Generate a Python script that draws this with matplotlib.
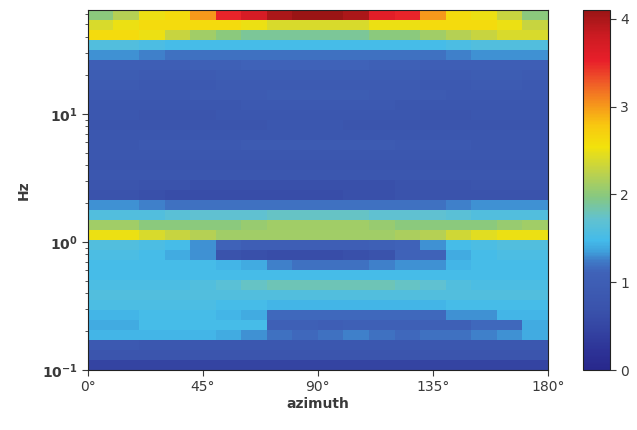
import numpy as np
import matplotlib
matplotlib.use("Agg")
import matplotlib.pyplot as plt
from matplotlib.colors import LinearSegmentedColormap

# azimuth bin edges (deg) and frequency span (Hz)
azimuth_edges = [0, 10, 20, 30, 40, 50, 60, 70, 80, 90, 100, 110, 120, 130, 140, 150, 160, 170, 180]
f_low, f_high = 0.1, 65.0

# values, top row (highest Hz) first, 18 azimuth bins each
rows = [
    [2.0, 2.2, 2.5, 2.6, 3.0, 3.5, 3.7, 4.0, 4.1, 4.1, 4.0, 3.6, 3.5, 3.0, 2.6, 2.5, 2.3, 2.0],
    [2.4, 2.5, 2.6, 2.6, 2.6, 2.6, 2.5, 2.4, 2.4, 2.4, 2.4, 2.5, 2.5, 2.6, 2.6, 2.6, 2.5, 2.3],
    [2.6, 2.6, 2.5, 2.3, 2.1, 2.0, 1.9, 1.9, 1.9, 1.9, 1.9, 2.0, 2.0, 2.1, 2.2, 2.3, 2.4, 2.4],
    [1.6, 1.6, 1.55, 1.5, 1.5, 1.5, 1.5, 1.5, 1.5, 1.5, 1.5, 1.5, 1.5, 1.5, 1.55, 1.6, 1.6, 1.6],
    [1.3, 1.3, 1.25, 1.2, 1.2, 1.2, 1.2, 1.2, 1.2, 1.2, 1.2, 1.2, 1.2, 1.2, 1.25, 1.3, 1.3, 1.3],
    [1.0, 1.0, 1.0, 1.0, 1.05, 1.05, 1.1, 1.1, 1.1, 1.1, 1.1, 1.05, 1.05, 1.0, 1.0, 1.0, 1.0, 1.0],
    [0.95, 0.95, 0.9, 0.9, 0.9, 0.95, 0.95, 0.95, 0.95, 0.95, 0.95, 0.95, 0.95, 0.9, 0.9, 0.95, 0.95, 0.9],
    [0.9, 0.9, 0.85, 0.85, 0.85, 0.9, 0.9, 0.9, 0.9, 0.9, 0.9, 0.9, 0.9, 0.85, 0.85, 0.9, 0.9, 0.85],
    [0.85, 0.85, 0.85, 0.85, 0.9, 0.9, 0.9, 0.95, 0.95, 0.95, 0.95, 0.9, 0.9, 0.9, 0.85, 0.85, 0.85, 0.85],
    [0.8, 0.8, 0.8, 0.8, 0.8, 0.8, 0.85, 0.85, 0.85, 0.85, 0.85, 0.85, 0.8, 0.8, 0.8, 0.8, 0.8, 0.8],
    [0.8, 0.8, 0.75, 0.75, 0.75, 0.8, 0.8, 0.8, 0.8, 0.8, 0.8, 0.8, 0.8, 0.75, 0.75, 0.8, 0.8, 0.8],
    [0.75, 0.75, 0.75, 0.75, 0.75, 0.75, 0.75, 0.8, 0.8, 0.8, 0.75, 0.75, 0.75, 0.75, 0.75, 0.75, 0.75, 0.75],
    [0.8, 0.8, 0.8, 0.8, 0.8, 0.8, 0.8, 0.8, 0.8, 0.8, 0.8, 0.8, 0.8, 0.8, 0.8, 0.8, 0.8, 0.8],
    [0.8, 0.8, 0.85, 0.85, 0.85, 0.85, 0.9, 0.9, 0.9, 0.9, 0.9, 0.9, 0.85, 0.85, 0.85, 0.8, 0.8, 0.8],
    [0.8, 0.8, 0.8, 0.8, 0.8, 0.8, 0.8, 0.8, 0.8, 0.8, 0.8, 0.8, 0.8, 0.8, 0.8, 0.8, 0.8, 0.8],
    [0.75, 0.75, 0.75, 0.75, 0.75, 0.75, 0.75, 0.75, 0.75, 0.75, 0.75, 0.75, 0.75, 0.75, 0.75, 0.75, 0.75, 0.75],
    [0.8, 0.8, 0.8, 0.8, 0.8, 0.8, 0.8, 0.8, 0.8, 0.8, 0.8, 0.8, 0.8, 0.8, 0.8, 0.8, 0.8, 0.8],
    [0.75, 0.75, 0.7, 0.7, 0.65, 0.65, 0.65, 0.65, 0.65, 0.65, 0.65, 0.65, 0.7, 0.7, 0.7, 0.75, 0.75, 0.75],
    [0.7, 0.7, 0.65, 0.6, 0.6, 0.6, 0.6, 0.6, 0.6, 0.6, 0.65, 0.65, 0.7, 0.7, 0.7, 0.7, 0.7, 0.7],
    [1.3, 1.3, 1.25, 1.2, 1.2, 1.2, 1.2, 1.2, 1.2, 1.2, 1.2, 1.2, 1.2, 1.2, 1.25, 1.3, 1.3, 1.3],
    [1.6, 1.6, 1.6, 1.65, 1.7, 1.7, 1.7, 1.75, 1.75, 1.75, 1.75, 1.7, 1.7, 1.7, 1.65, 1.6, 1.6, 1.6],
    [2.1, 2.1, 2.0, 2.0, 2.0, 2.0, 2.05, 2.1, 2.1, 2.1, 2.1, 2.05, 2.0, 2.0, 2.0, 2.0, 2.05, 2.1],
    [2.5, 2.5, 2.4, 2.3, 2.2, 2.1, 2.1, 2.1, 2.1, 2.1, 2.1, 2.1, 2.15, 2.2, 2.35, 2.45, 2.5, 2.5],
    [1.6, 1.6, 1.55, 1.5, 1.3, 1.1, 1.0, 1.0, 1.0, 1.0, 1.0, 1.05, 1.1, 1.3, 1.5, 1.55, 1.6, 1.6],
    [1.55, 1.55, 1.5, 1.4, 1.3, 0.7, 0.65, 0.6, 0.6, 0.6, 0.65, 0.7, 1.1, 1.1, 1.4, 1.5, 1.55, 1.55],
    [1.5, 1.5, 1.5, 1.5, 1.5, 1.45, 1.4, 1.25, 1.2, 1.2, 1.2, 1.25, 1.3, 1.3, 1.45, 1.5, 1.5, 1.5],
    [1.5, 1.5, 1.5, 1.5, 1.5, 1.5, 1.5, 1.5, 1.5, 1.5, 1.5, 1.5, 1.5, 1.5, 1.5, 1.5, 1.5, 1.5],
    [1.55, 1.55, 1.55, 1.55, 1.6, 1.65, 1.75, 1.8, 1.8, 1.8, 1.8, 1.8, 1.75, 1.7, 1.6, 1.55, 1.55, 1.55],
    [1.6, 1.6, 1.6, 1.6, 1.6, 1.6, 1.6, 1.6, 1.6, 1.6, 1.6, 1.6, 1.6, 1.6, 1.6, 1.6, 1.6, 1.6],
    [1.55, 1.55, 1.55, 1.55, 1.55, 1.5, 1.5, 1.45, 1.45, 1.45, 1.45, 1.45, 1.45, 1.45, 1.5, 1.5, 1.5, 1.5],
    [1.45, 1.45, 1.5, 1.5, 1.5, 1.45, 1.4, 1.15, 1.15, 1.15, 1.15, 1.15, 1.15, 1.15, 1.3, 1.3, 1.45, 1.45],
    [1.4, 1.4, 1.5, 1.5, 1.5, 1.5, 1.5, 1.05, 1.05, 1.0, 1.05, 1.05, 1.05, 1.05, 1.05, 1.15, 1.15, 1.4],
    [1.45, 1.45, 1.45, 1.45, 1.45, 1.4, 1.3, 1.2, 1.15, 1.2, 1.25, 1.2, 1.15, 1.2, 1.2, 1.25, 1.3, 1.4],
    [0.85, 0.85, 0.8, 0.8, 0.8, 0.8, 0.8, 0.8, 0.8, 0.8, 0.8, 0.8, 0.8, 0.8, 0.8, 0.8, 0.8, 0.8],
    [0.75, 0.75, 0.75, 0.75, 0.75, 0.75, 0.75, 0.75, 0.75, 0.75, 0.75, 0.75, 0.75, 0.75, 0.75, 0.75, 0.75, 0.75],
    [0.45, 0.45, 0.45, 0.45, 0.45, 0.45, 0.45, 0.45, 0.45, 0.45, 0.45, 0.45, 0.45, 0.45, 0.45, 0.45, 0.45, 0.45],
]
vmax = 4.1

# colormap taken from the colour bar
cmap_stops = [
    (0.00, "#28288c"), (0.05, "#2d3296"), (0.11, "#3444a2"), (0.17, "#3a53ac"),
    (0.22, "#3d5bb2"), (0.27, "#3f62b8"), (0.30, "#3f78c6"), (0.33, "#3fa2dc"),
    (0.36, "#44bbea"), (0.42, "#62c2cf"), (0.48, "#86c882"), (0.55, "#bfd24a"),
    (0.62, "#f2e20c"), (0.68, "#f8c810"), (0.74, "#f6931c"), (0.80, "#ef5a28"),
    (0.86, "#e81f2a"), (0.93, "#cc1b22"), (1.00, "#9a1515"),
]
cmap = LinearSegmentedColormap.from_list("bar", cmap_stops)

data = np.array(rows)[::-1]  # bottom row first for pcolormesh
f_edges = np.logspace(np.log10(f_low), np.log10(f_high), len(rows) + 1)

fig = plt.figure(figsize=(6.37, 4.30), dpi=100)
ax = fig.add_axes([0.138, 0.1395, 0.722, 0.8375])
mesh = ax.pcolormesh(azimuth_edges, f_edges, data, cmap=cmap, vmin=0, vmax=vmax,
                     shading="flat", antialiased=False)
ax.set_yscale("log")
ax.set_ylim(f_low, f_high)
ax.set_xlim(0, 180)

tick_color = "#3a3a3a"
ax.set_xticks([0, 45, 90, 135, 180])
ax.set_xticklabels(["0°", "45°", "90°", "135°", "180°"])
ax.set_yticks([0.1, 1, 10])
ax.set_yticklabels([r"$\mathbf{10^{-1}}$", r"$\mathbf{10^{0}}$", r"$\mathbf{10^{1}}$"])
ax.tick_params(axis="both", colors=tick_color, labelsize=10, length=4)
ax.tick_params(axis="y", which="minor", length=2.5, colors=tick_color)
ax.set_xlabel("azimuth", fontsize=10, fontweight="bold", color=tick_color, labelpad=2)
ax.set_ylabel("Hz", fontsize=10, fontweight="bold", color=tick_color, labelpad=8)
for s in ax.spines.values():
    s.set_color("#222222")

cax = fig.add_axes([0.915, 0.1395, 0.042, 0.8375])
cb = fig.colorbar(mesh, cax=cax, ticks=[0, 1, 2, 3, 4])
cb.ax.tick_params(colors=tick_color, labelsize=10, length=4)
cb.outline.set_edgecolor("#222222")

fig.savefig("out.png", dpi=100)
